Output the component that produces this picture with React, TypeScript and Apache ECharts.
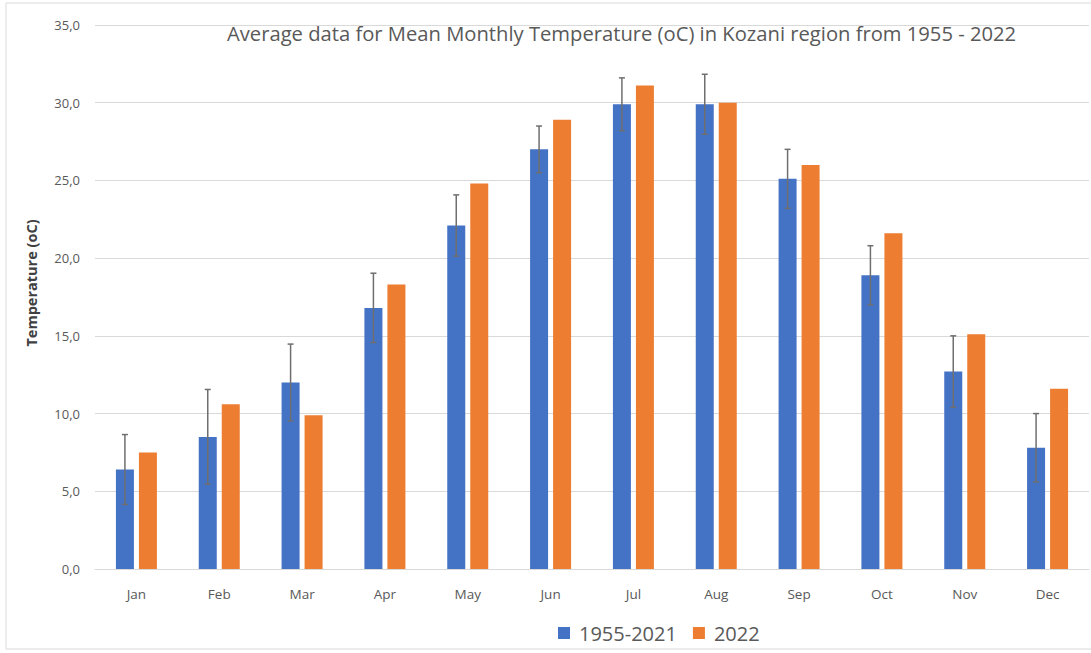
import React, { useEffect, useRef } from "react";
import * as echarts from "echarts";

const months = ["Jan", "Feb", "Mar", "Apr", "May", "Jun", "Jul", "Aug", "Sep", "Oct", "Nov", "Dec"];
const mean19552021 = [6.4, 8.5, 12.0, 16.8, 22.1, 27.0, 29.9, 29.9, 25.1, 18.9, 12.7, 7.8];
const values2022 = [7.5, 10.6, 9.9, 18.3, 24.8, 28.9, 31.1, 30.0, 26.0, 21.6, 15.1, 11.6];
const errors19552021 = [2.25, 3.05, 2.47, 2.23, 1.97, 1.5, 1.7, 1.93, 1.9, 1.9, 2.3, 2.2];
const yTicks = [0, 5, 10, 15, 20, 25, 30, 35];

const BAR_W = 18;
const BAR_GAP = 5;

export default function App() {
  const ref = useRef<HTMLDivElement>(null);
  useEffect(() => {
    if (!ref.current) return;
    const chart = echarts.init(ref.current, null, { renderer: "svg" });
    const errData = mean19552021.map((m, i) => [i, m - errors19552021[i], m + errors19552021[i]]);
    const font = "'Open Sans', 'Liberation Sans', sans-serif";
    chart.setOption({
      animation: false,
      backgroundColor: "#ffffff",
      textStyle: { fontFamily: font },
      title: {
        text: "Average data for Mean Monthly Temperature (oC) in Kozani region from 1955 - 2022",
        left: 222,
        top: 18,
        textStyle: { fontFamily: font, fontSize: 20.2, fontWeight: "normal", color: "#595959" },
      },
      grid: { left: 95, right: 2, top: 25, bottom: 84 },
      legend: {
        top: 618,
        left: 553,
        itemWidth: 12,
        itemHeight: 12,
        itemGap: 16,
        icon: "rect",
        textStyle: { fontFamily: font, fontSize: 20, color: "#595959", padding: [0, 0, 0, 4] },
        data: ["1955-2021", "2022"],
      },
      xAxis: {
        type: "category",
        data: months,
        axisLine: { lineStyle: { color: "#d9d9d9" } },
        axisTick: { show: false },
        axisLabel: { color: "#595959", fontSize: 13.5, margin: 18 },
      },
      yAxis: {
        type: "value",
        min: yTicks[0],
        max: yTicks[yTicks.length - 1],
        interval: 5,
        axisLine: { show: false },
        axisTick: { show: false },
        splitLine: { lineStyle: { color: "#d9d9d9" } },
        axisLabel: {
          color: "#595959",
          fontSize: 13,
          margin: 15,
          formatter: (v: number) => v.toFixed(1).replace(".", ","),
        },
      },
      graphic: [
        {
          type: "rect",
          shape: { x: 6, y: 3, width: 1200, height: 646 },
          style: { fill: "none", stroke: "#d9d9d9", lineWidth: 1 },
          silent: true,
        },
        {
          type: "text",
          x: 31,
          y: 283,
          rotation: Math.PI / 2,
          style: {
            text: "Temperature (oC)",
            fontFamily: font,
            fontSize: 14.5,
            fontWeight: "bold",
            fill: "#404040",
            align: "center",
            verticalAlign: "middle",
          },
        },
      ],
      series: [
        {
          name: "1955-2021",
          type: "bar",
          data: mean19552021,
          barWidth: BAR_W,
          barGap: (BAR_GAP / BAR_W) * 100 + "%",
          itemStyle: { color: "#4472C4" },
        },
        {
          name: "2022",
          type: "bar",
          data: values2022,
          barWidth: BAR_W,
          itemStyle: { color: "#ED7D31" },
        },
        {
          type: "custom",
          name: "err",
          data: errData,
          encode: { x: 0, y: [1, 2] },
          z: 10,
          renderItem: (params: any, api: any) => {
            const i = api.value(0);
            const lo = api.coord([i, api.value(1)]);
            const hi = api.coord([i, api.value(2)]);
            const x = lo[0] - (BAR_W + BAR_GAP) / 2;
            const cap = 3;
            const style = { stroke: "#6f6f6f", lineWidth: 1.5 };
            return {
              type: "group",
              children: [
                { type: "line", shape: { x1: x, y1: lo[1], x2: x, y2: hi[1] }, style },
                { type: "line", shape: { x1: x - cap, y1: lo[1], x2: x + cap, y2: lo[1] }, style },
                { type: "line", shape: { x1: x - cap, y1: hi[1], x2: x + cap, y2: hi[1] }, style },
              ],
            };
          },
        },
      ],
    });
    return () => chart.dispose();
  }, []);
  return <div ref={ref} style={{ position: "fixed", left: 0, top: 0, width: 1091, height: 653 }} />;
}
